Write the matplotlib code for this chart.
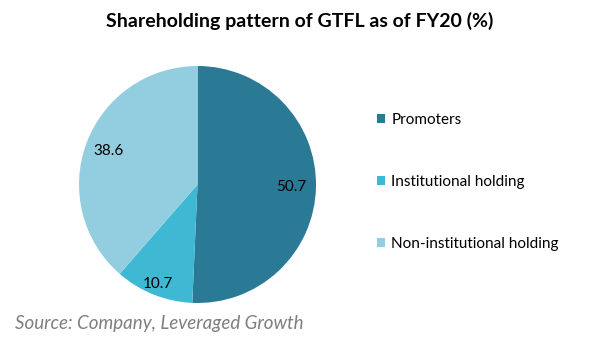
import matplotlib
matplotlib.use("Agg")
import matplotlib.pyplot as plt
import numpy as np
from matplotlib.patches import Patch

categories = ["Promoters", "Institutional holding", "Non-institutional holding"]
values = [50.7, 10.7, 38.6]
colors = ["#2A7A96", "#3FB8D3", "#92CEE0"]
title = "Shareholding pattern of GTFL as of FY20 (%)"
source = "Source: Company, Leveraged Growth"

plt.rcParams['font.family'] = ['Lato', 'DejaVu Sans']

fig = plt.figure(figsize=(6, 3.43), dpi=100)
ax = fig.add_axes([0.1317, 0.1166, 0.395, 0.691])
wedges, texts = ax.pie(values, colors=colors, startangle=90, counterclock=False,
                       wedgeprops=dict(linewidth=0))
ax.set_xlim(-1, 1)
ax.set_ylim(-1, 1)
ax.set_aspect('equal')
label_r = [0.79, 0.90, 0.80]
for w, v, r in zip(wedges, values, label_r):
    ang = np.deg2rad((w.theta1 + w.theta2) / 2)
    ax.text(r * np.cos(ang), r * np.sin(ang), f"{v:.1f}", ha='center', va='center',
            fontsize=11, color='black')

fig.text(0.5, 0.94, title, ha='center', va='center', fontsize=14, fontweight='bold')

handles = [Patch(facecolor=c, edgecolor='none') for c in colors]
fig.legend(handles, categories, loc='center left', bbox_to_anchor=(0.605, 0.47),
           frameon=False, fontsize=11, handlelength=0.55, handleheight=0.55,
           handletextpad=0.4, labelspacing=3.15)

fig.text(0.025, 0.058, source, ha='left', va='center', fontsize=13.5, style='italic', color='#7F7F7F')

fig.savefig("out.png", dpi=100)
